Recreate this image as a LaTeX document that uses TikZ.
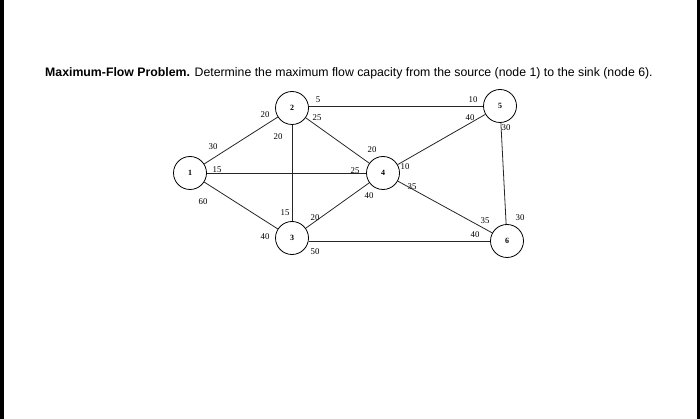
\documentclass[tikz,border=0pt]{standalone}
\usepackage{fontspec}
\setmainfont{Liberation Sans}
\newfontfamily\serifl{Liberation Serif}
\begin{document}
\begin{tikzpicture}[x=1pt,y=-1pt,
  nd/.style={draw,circle,minimum size=33pt,inner sep=0pt,font=\serifl\bfseries\fontsize{8}{9}\selectfont,line width=0.8pt},
  lb/.style={font=\serifl\fontsize{8.8}{10}\selectfont,inner sep=0pt},
  ed/.style={line width=0.8pt,draw=black!85}]
\useasboundingbox (0,0) rectangle (700,419);
\fill[black] (0,0) rectangle (4,419);
\fill[black] (697,0) rectangle (700,419);
\node[anchor=west,inner sep=0pt,font=\fontsize{12.3}{14}\selectfont] (title) at (45,73) {\textbf{Maximum-Flow Problem.} Determine the maximum flow capacity from the source (node 1) to the sink (node 6).};
\node[nd] (n1) at (190,173) {1};
\node[nd] (n2) at (292,108) {2};
\node[nd] (n5) at (500,106) {5};
\node[nd] (n4) at (383,173) {4};
\node[nd] (n3) at (292,238) {3};
\node[nd] (n6) at (507,241) {6};
\draw[ed] (n1)--(n2); \draw[ed] (n1)--(n4); \draw[ed] (n1)--(n3);
\draw[ed] (n2.east|-n5)--(n5); \draw[ed] (n2)--(n4); \draw[ed] (n2)--(n3);
\draw[ed] (n3)--(n4); \draw[ed] (n3.east|-n6)--(n6);
\draw[ed] (n4)--(n5); \draw[ed] (n4)--(n6); \draw[ed] (n5)--(n6);
\node[lb] (a1) at (318,100) {5};
\node[lb] (a2) at (473,100) {10};
\node[lb] (a3) at (265,115) {20};
\node[lb] (a4) at (317,118) {25};
\node[lb] (a5) at (470,118) {40};
\node[lb] (a6) at (506,128) {30};
\node[lb] (a7) at (278,137) {20};
\node[lb] (a8) at (213,147) {30};
\node[lb] (a9) at (372,150) {20};
\node[lb] (a10) at (217,170) {15};
\node[lb] (a11) at (355,171) {25};
\node[lb] (a12) at (405,167) {10};
\node[lb] (a13) at (412,187) {35};
\node[lb] (a14) at (203,202) {60};
\node[lb] (a15) at (369,196) {40};
\node[lb] (a16) at (285,213) {15};
\node[lb] (a17) at (315,218) {20};
\node[lb] (a18) at (485,221) {35};
\node[lb] (a19) at (520,218) {30};
\node[lb] (a20) at (265,237) {40};
\node[lb] (a21) at (475,235) {40};
\node[lb] (a22) at (315,252) {50};
\end{tikzpicture}
\end{document}
